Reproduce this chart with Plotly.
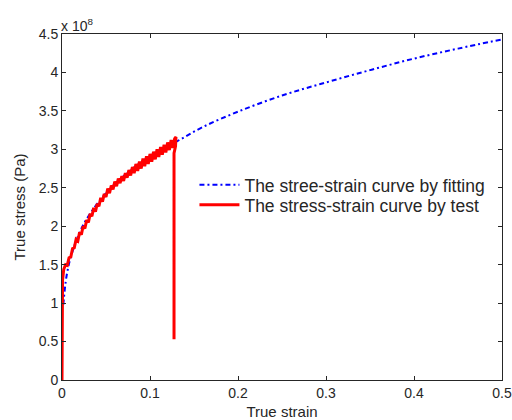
import plotly.graph_objects as go

# Fitted curve (stress in units of 1e8 Pa)
fit_strain = [0.0015, 0.005, 0.01, 0.02, 0.03, 0.05, 0.075, 0.1, 0.13, 0.16,
              0.2, 0.25, 0.3, 0.35, 0.4, 0.45, 0.5]
fit_stress = [0.98, 1.34, 1.60, 1.92, 2.13, 2.43, 2.70, 2.91, 3.10, 3.29,
              3.49, 3.70, 3.87, 4.03, 4.18, 4.31, 4.43]

# Test curve (stress in units of 1e8 Pa), noisy
test_strain = [0.0, 0.0003, 0.0006, 0.002, 0.004, 0.006, 0.008, 0.010, 0.012, 0.014,
               0.016, 0.018, 0.020, 0.022, 0.024, 0.026, 0.028, 0.030, 0.032, 0.034,
               0.036, 0.038, 0.040, 0.042, 0.044, 0.046, 0.048, 0.050, 0.052, 0.054,
               0.056, 0.058, 0.060, 0.062, 0.064, 0.066, 0.068, 0.070, 0.072, 0.074,
               0.076, 0.078, 0.080, 0.082, 0.084, 0.086, 0.088, 0.090, 0.092, 0.094,
               0.096, 0.098, 0.100, 0.102, 0.104, 0.106, 0.108, 0.110, 0.112, 0.114,
               0.116, 0.118, 0.120, 0.122, 0.124, 0.126, 0.128, 0.1295, 0.129,
               0.1273, 0.1273, 0.1273, 0.1273]
test_stress = [0.00, 0.65, 1.30, 1.44, 1.50, 1.49, 1.59, 1.60, 1.71, 1.72,
               1.83, 1.81, 1.92, 1.89, 2.00, 1.97, 2.08, 2.05, 2.16, 2.13,
               2.24, 2.19, 2.29, 2.26, 2.37, 2.32, 2.42, 2.38, 2.49, 2.43,
               2.53, 2.48, 2.58, 2.52, 2.62, 2.56, 2.65, 2.59, 2.69, 2.63,
               2.73, 2.66, 2.77, 2.69, 2.81, 2.72, 2.84, 2.75, 2.88, 2.78,
               2.91, 2.81, 2.94, 2.84, 2.97, 2.87, 3.00, 2.90, 3.03, 2.93,
               3.06, 2.96, 3.09, 2.99, 3.12, 3.02, 3.14, 3.16, 3.04,
               2.95, 2.80, 2.72, 0.53]

x_ticks = [0, 0.1, 0.2, 0.3, 0.4, 0.5]
x_ticklabels = ["0", "0.1", "0.2", "0.3", "0.4", "0.5"]
y_ticks = [0, 0.5, 1, 1.5, 2, 2.5, 3, 3.5, 4, 4.5]
y_ticklabels = ["0", "0.5", "1", "1.5", "2", "2.5", "3", "3.5", "4", "4.5"]

FONT = "Liberation Sans, Arial, sans-serif"
INK = "#262626"

fig = go.Figure()
fig.add_trace(go.Scatter(
    x=fit_strain, y=fit_stress, mode="lines", line_shape="spline",
    name="The stree-strain curve by fitting", legend="legend",
    line=dict(color="#0000FF", width=2, dash="5px,3px,2px,3px"),
))
fig.add_trace(go.Scatter(
    x=test_strain, y=test_stress, mode="lines",
    name="The stress-strain curve by test", legend="legend2",
    line=dict(color="#FF0000", width=3),
))

axis_common = dict(
    showgrid=False, zeroline=False, showline=True, linecolor=INK,
    linewidth=1, mirror="ticks", ticks="inside", ticklen=4, tickcolor=INK,
    tickfont=dict(family=FONT, size=14, color=INK), automargin=False,
)

legend_common = dict(xanchor="left", yanchor="middle",
                     bgcolor="rgba(255,255,255,0)", borderwidth=0,
                     font=dict(family=FONT, size=17.5, color=INK), itemwidth=40)

fig.update_layout(
    width=512, height=420,
    margin=dict(l=62, r=10, t=34, b=40),
    paper_bgcolor="white", plot_bgcolor="white",
    font=dict(family=FONT, size=14, color=INK),
    xaxis=dict(range=[0, 0.5], tickvals=x_ticks, ticktext=x_ticklabels,
               title=dict(text="True strain",
                          font=dict(family=FONT, size=15, color=INK)),
               **axis_common),
    yaxis=dict(range=[0, 4.5], tickvals=y_ticks, ticktext=y_ticklabels,
               title=dict(text="True stress (Pa)", standoff=9,
                          font=dict(family=FONT, size=15, color=INK)),
               **axis_common),
    legend=dict(x=0.301, y=0.5636, **legend_common),
    legend2=dict(x=0.301, y=0.5058, **legend_common),
    showlegend=True,
    annotations=[dict(text="x 10<sup>8</sup>", xref="paper", yref="paper",
                      x=0, y=1, xanchor="left", yanchor="bottom", showarrow=False,
                      xshift=-3, yshift=-2,
                      font=dict(family=FONT, size=14, color=INK))],
)

fig.write_html(
    "out.html",
    config={"displayModeBar": False},
    post_script="document.body.style.margin='0px';document.body.style.overflow='hidden';",
)
